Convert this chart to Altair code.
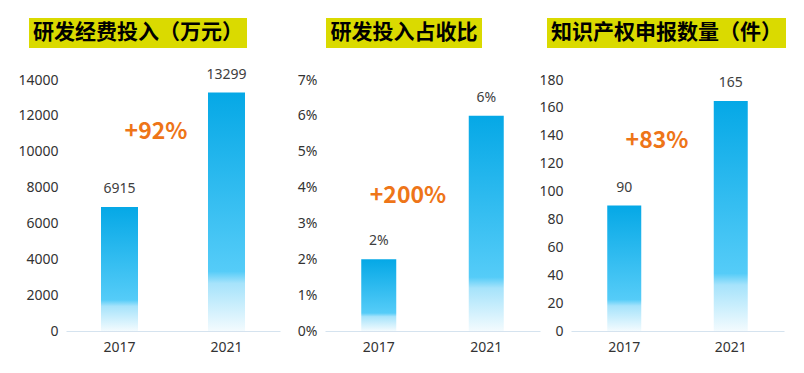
import altair as alt
import pandas as pd

years = ["2017", "2021"]
rd_spend = [6915, 13299]
rd_ratio = [2, 6]
ip_count = [90, 165]
titles = ["研发经费投入（万元）", "研发投入占收比", "知识产权申报数量（件）"]
growth = ["+92%", "+200%", "+83%"]

CJK = "Noto Sans CJK SC"
NUM = "Noto Sans"
GRAD = {
    "gradient": "linear", "x1": 0, "y1": 0, "x2": 0, "y2": 1,
    "stops": [
        {"offset": 0.0, "color": "#05A8E6"},
        {"offset": 0.75, "color": "#55CCF8"},
        {"offset": 0.80, "color": "#A6E3FB"},
        {"offset": 1.0, "color": "#F3FBFE"},
    ],
}


def panel(values, labels, title, grow, ymax, step, pct, width, bar_size,
          box, title_x, ann):
    df = pd.DataFrame({"year": years, "value": values, "label": labels})
    base = alt.Chart(df)
    yaxis = alt.Axis(
        values=list(range(0, ymax + 1, step)), grid=False, ticks=False,
        domain=False, labelFontSize=14, labelColor="#333333", labelPadding=8,
        labelFont=NUM, title=None, labelOverlap=False, labelFlush=False,
        **({"labelExpr": "datum.value + '%'"} if pct else {"format": "d"}),
    )
    x = alt.X("year:N", title=None,
              scale=alt.Scale(paddingInner=0, paddingOuter=0),
              axis=alt.Axis(labelAngle=0, ticks=False, domainColor="#D5E3EF",
                            labelPadding=9, labelFontSize=14, labelFont=NUM,
                            labelColor="#333333"))
    y = alt.Y("value:Q", scale=alt.Scale(domain=[0, ymax], nice=False), axis=yaxis)
    bars = base.mark_bar(color=GRAD, size=bar_size).encode(x=x, y=y)
    text = base.mark_text(dy=-18, fontSize=14, color="#404040", font=NUM).encode(
        x=x, y=y, text="label:N")
    box_df = pd.DataFrame({"t": [title]})
    rect = alt.Chart(box_df).mark_rect(color="#DADA00", clip=False).encode(
        x=alt.value(box[0]), x2=alt.value(box[1]),
        y=alt.value(-62), y2=alt.value(-32))
    ttl = alt.Chart(box_df).mark_text(
        fontSize=21, fontWeight="bold", font=CJK, color="#000000",
        baseline="middle", align="center").encode(
        x=alt.value(title_x), y=alt.value(-47), text="t:N")
    ann_df = pd.DataFrame({"g": [grow]})
    annot = alt.Chart(ann_df).mark_text(
        fontSize=23, fontWeight="bold", font=CJK, color="#EE7518",
        baseline="middle", align="center").encode(
        x=alt.value(ann[0]), y=alt.value(ann[1]), text="g:N")
    return alt.layer(bars, text, rect, ttl, annot).properties(width=width, height=251)


p1 = panel(rd_spend, [str(v) for v in rd_spend], titles[0], growth[0],
           14000, 2000, False, 214, 37, (-37, 181), 72, (90, 52))
p2 = panel(rd_ratio, [f"{v}%" for v in rd_ratio], titles[1], growth[1],
           7, 1, True, 215, 35, (1, 157), 79, (83, 116))
p3 = panel(ip_count, [str(v) for v in ip_count], titles[2], growth[2],
           180, 20, False, 213, 34, (-24, 215), 95.5, (86, 61))

right = alt.hconcat(p2, p3, spacing=31, bounds="flush")
chart = alt.hconcat(p1, right, spacing=45, bounds="flush").properties(
    padding={"left": 9, "top": 10, "right": 5, "bottom": 5},
    background="white",
).configure_view(stroke=None)

chart.save("out.html", embed_options={"renderer": "svg", "actions": False})
